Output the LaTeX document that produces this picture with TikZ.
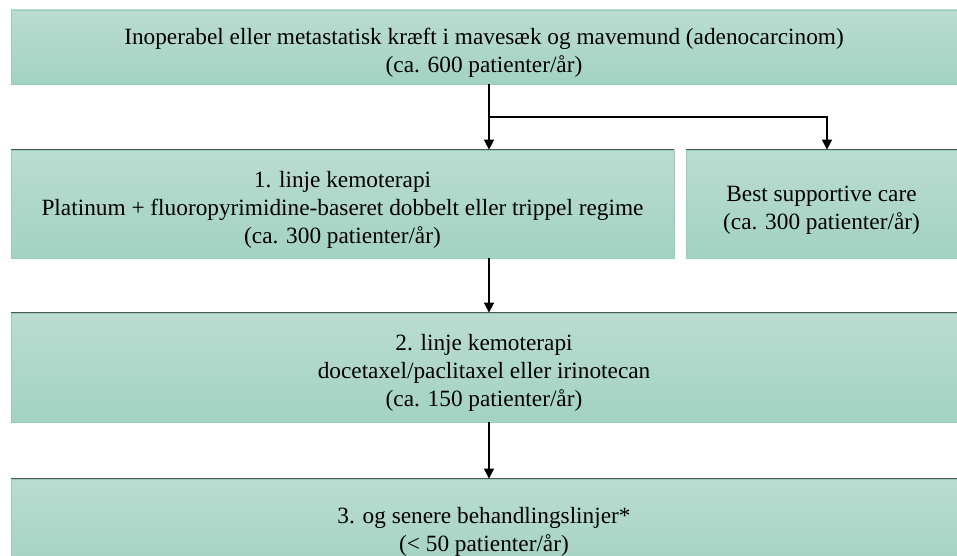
\documentclass[tikz,border=0pt]{standalone}
\usepackage{fontspec}
\setmainfont{Liberation Serif}
\usetikzlibrary{arrows.meta}
\definecolor{boxtop}{HTML}{BBDCD1}
\definecolor{boxbottom}{HTML}{A2D2C2}
\definecolor{boxedge}{HTML}{96CCBA}
\definecolor{topedge}{HTML}{4E5552}
\newcommand{\lowerstrut}{\rule{0pt}{27pt}}
\begin{document}
\begin{tikzpicture}[
  x=1pt, y=-1pt,
  box/.style={rectangle, draw=boxedge, line width=0.8pt, top color=boxtop, bottom color=boxbottom,
    font=\fontsize{23.3}{28}\selectfont, align=center, inner sep=0pt},
  arrow/.style={-{Triangle[length=10pt,width=10pt]}, line width=1.6pt, black},
  topline/.style={topedge, line width=1.4pt}
]
\useasboundingbox (0,0) rectangle (957,556);
\clip (0,0) rectangle (957,556);

% Boxes
\node[box, minimum width=946pt, minimum height=74pt] (start) at (484,47)
  {\lowerstrut Inoperabel eller metastatisk kræft i mavesæk og mavemund (adenocarcinom)\\(ca. 600 patienter/år)};
\node[box, minimum width=663pt, minimum height=108pt] (first) at (342.5,204)
  {\lowerstrut 1. linje kemoterapi\\Platinum + fluoropyrimidine-baseret dobbelt eller trippel regime\\(ca. 300 patienter/år)};
\node[box, minimum width=271pt, minimum height=108pt] (bsc) at (821.5,204)
  {\lowerstrut Best supportive care\\(ca. 300 patienter/år)};
\node[box, minimum width=946pt, minimum height=109pt] (second) at (484,367.5)
  {\lowerstrut 2. linje kemoterapi\\docetaxel/paclitaxel eller irinotecan\\(ca. 150 patienter/år)};
\node[box, minimum width=946pt, minimum height=94pt] (third) at (484,526)
  {\lowerstrut 3. og senere behandlingslinjer*\\(< 50 patienter/år)};

% Dark top edges
\draw[topline] (first.north west) -- (first.north east);
\draw[topline] (bsc.north west) -- (bsc.north east);
\draw[topline] (second.north west) -- (second.north east);
\draw[topline] (third.north west) -- (third.north east);

% Connectors
\coordinate (split) at (489,117);
\draw[arrow] (start.south -| split) -- (split |- first.north);
\draw[arrow] (split) -| ([xshift=5.5pt]bsc.north);
\draw[arrow] (first.south -| split) -- (split |- second.north);
\draw[arrow] (second.south -| split) -- (split |- third.north);

\end{tikzpicture}
\end{document}
